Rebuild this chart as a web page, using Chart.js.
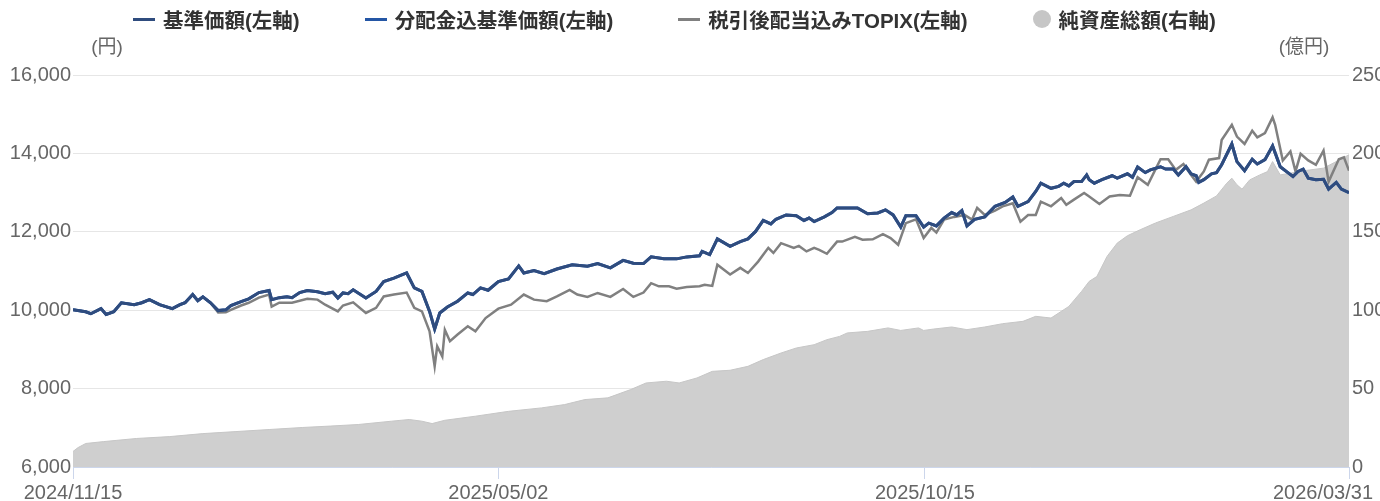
<!DOCTYPE html>
<html lang="ja">
<head>
<meta charset="utf-8">
<title>基準価額・純資産総額の推移</title>
<script src="https://cdn.jsdelivr.net/npm/chart.js@4.4.1/dist/chart.umd.min.js"></script>
<style>
  html, body { margin: 0; padding: 0; background: #fff; }
  #wrap { position: relative; width: 1380px; height: 501px; }
  #legend {
    position: absolute; top: 4px; left: 0;
    display: flex; align-items: center; gap: 65px; padding-left: 133px;
    font: bold 20.5px "Liberation Sans", "Noto Sans CJK JP", sans-serif;
    color: #333; white-space: nowrap;
  }
  .item { display: flex; align-items: center; gap: 8px; }
  .dash { width: 22px; height: 3px; }
  .dot { width: 18px; height: 18px; border-radius: 50%; }
</style>
</head>
<body>
<div id="wrap">
  <canvas id="chart" width="1380" height="501"></canvas>
  <div id="legend"></div>
</div>
<script>
// x = 2024/11/15 からの経過日数
const tickDays = [0, 167, 334.5, 501];
const tickLabels = ['2024/11/15', '2025/05/02', '2025/10/15', '2026/03/31'];

// 基準価額 (円) ※分配金込も同じ
const navPoints = [
  [0,10010],[5,9960],[7,9910],[11,10040],[13,9890],[16,9960],[19,10190],[24,10140],[27,10190],[30,10270],
  [34,10140],[39,10040],[42,10140],[44,10190],[47,10400],[49,10240],[51,10340],[54,10190],[57,9990],[60,10010],
  [62,10120],[66,10220],[69,10290],[73,10450],[77,10500],[78,10270],[81,10320],[84,10340],[86,10320],[89,10450],
  [92,10500],[96,10470],[99,10420],[102,10460],[104,10310],[106,10440],[108,10420],[110,10520],[115,10310],[119,10480],
  [122,10730],[126,10820],[131,10950],[134,10570],[137,10480],[140,9970],[142,9520],[144,9930],[147,10080],[151,10230],
  [155,10440],[157,10400],[160,10570],[163,10510],[167,10730],[171,10800],[175,11130],[177,10950],[181,11010],[185,10930],
  [190,11050],[196,11160],[202,11120],[206,11190],[211,11080],[216,11270],[220,11200],[224,11190],[227,11360],[232,11310],
  [237,11310],[241,11360],[246,11390],[247,11500],[250,11420],[253,11820],[258,11630],[262,11750],[265,11820],[268,12010],
  [271,12290],[274,12200],[276,12320],[280,12430],[284,12410],[287,12290],[289,12350],[291,12260],[295,12380],[298,12490],
  [300,12610],[302,12610],[308,12610],[312,12460],[316,12480],[319,12560],[322,12430],[325,12120],[327,12410],[331,12410],
  [334,12120],[336,12220],[339,12150],[342,12350],[345,12490],[347,12430],[349,12540],[351,12150],[354,12320],[358,12380],
  [362,12650],[366,12750],[369,12890],[371,12650],[375,12770],[378,13030],[380,13240],[384,13110],[387,13160],[389,13240],
  [391,13170],[393,13280],[396,13280],[398,13450],[399,13330],[401,13240],[404,13330],[408,13430],[410,13370],[414,13480],
  [416,13390],[418,13650],[421,13510],[423,13580],[427,13660],[429,13600],[432,13600],[434,13450],[437,13660],[439,13480],
  [441,13430],[442,13260],[444,13330],[447,13480],[449,13510],[451,13710],[455,14240],[457,13790],[460,13560],[463,13850],
  [465,13730],[468,13840],[471,14190],[474,13660],[477,13510],[479,13410],[481,13540],[483,13600],[485,13370],[488,13330],
  [491,13340],[493,13090],[496,13260],[498,13090],[501,13000]
];

// 税引後配当込みTOPIX (指数化)
const topixPoints = [
  [0,10010],[5,9960],[7,9910],[11,10040],[13,9890],[16,9960],[19,10190],[24,10140],[27,10190],[30,10270],
  [34,10140],[39,10040],[42,10140],[44,10190],[47,10400],[49,10240],[51,10340],[54,10190],[57,9940],[60,9950],
  [62,10010],[66,10120],[69,10190],[73,10320],[77,10400],[78,10090],[81,10190],[86,10190],[92,10290],[96,10270],
  [99,10140],[104,9970],[106,10120],[110,10200],[115,9930],[119,10060],[122,10350],[126,10400],[131,10450],[134,10060],
  [137,9970],[140,9460],[142,8570],[143,9080],[145,8820],[146,9500],[148,9210],[151,9380],[155,9590],[158,9460],
  [162,9800],[167,10040],[172,10140],[177,10400],[181,10270],[186,10230],[190,10350],[195,10520],[198,10400],[202,10340],
  [206,10440],[211,10340],[216,10540],[220,10340],[224,10450],[227,10690],[230,10610],[234,10610],[237,10550],[241,10590],
  [246,10610],[248,10650],[251,10620],[253,11160],[258,10910],[262,11080],[265,10950],[269,11240],[273,11590],[275,11460],
  [278,11710],[283,11590],[285,11640],[288,11500],[291,11590],[293,11540],[296,11440],[300,11750],[302,11750],[307,11870],
  [310,11800],[314,11810],[318,11940],[321,11840],[324,11670],[327,12220],[331,12320],[334,11840],[337,12100],[339,11980],
  [342,12310],[346,12380],[350,12430],[353,12310],[355,12610],[358,12430],[362,12540],[365,12650],[369,12730],[372,12260],
  [375,12430],[378,12430],[380,12770],[384,12650],[388,12860],[390,12690],[393,12820],[397,12990],[399,12900],[403,12710],
  [407,12900],[411,12940],[415,12920],[418,13390],[422,13200],[427,13850],[430,13850],[433,13580],[436,13730],[439,13450],
  [441,13280],[444,13540],[446,13840],[450,13880],[451,14340],[455,14730],[457,14430],[460,14240],[463,14580],[465,14410],
  [468,14520],[471,14920],[472,14730],[475,13820],[478,14050],[480,13540],[482,13990],[485,13820],[488,13710],[491,14070],
  [493,13280],[497,13850],[499,13900],[501,13560]
];

// 純資産総額 (億円)
const assetPoints = [
  [0,9.9],[2,12.4],[5,15.0],[12,16.2],[25,18.2],[38,19.4],[51,21.3],[64,22.6],[77,23.9],[90,25.2],
  [101,26.1],[112,27.1],[125,29.2],[132,30.3],[137,29.2],[141,27.7],[146,29.8],[158,32.4],[171,35.5],[184,37.7],
  [193,39.8],[201,43.0],[210,44.1],[219,49.4],[225,53.6],[233,54.7],[238,53.6],[245,56.8],[251,61.0],[258,61.7],
  [265,64.2],[271,68.5],[278,72.7],[284,75.9],[291,78.0],[296,81.2],[301,83.3],[304,85.5],[312,86.5],[320,88.7],
  [325,87.1],[332,88.7],[334,87.1],[338,88.0],[345,89.3],[351,87.6],[358,89.3],[365,91.4],[373,92.9],[378,96.1],
  [384,95.0],[391,102.4],[396,112.0],[399,118.4],[402,121.5],[406,134.3],[410,142.8],[414,147.5],[419,151.3],[425,155.6],
  [432,159.8],[439,164.0],[444,168.3],[449,172.9],[453,181.0],[455,184.2],[457,180.0],[459,177.2],[462,183.1],[466,186.3],
  [469,188.4],[471,194.8],[474,186.3],[478,187.4],[484,189.1],[491,190.6],[496,194.8],[501,199.1]
];

const toXY = pts => pts.map(p => ({ x: p[0], y: p[1] }));
const tickFont = { family: '"Liberation Sans", Arial, sans-serif', size: 20 };

// 単位表示と日付ラベル
const axisText = {
  id: 'axisText',
  afterDraw(chart) {
    const { ctx, chartArea, scales } = chart;
    ctx.save();
    ctx.fillStyle = '#666';
    ctx.font = '19px "Liberation Sans", "Noto Sans CJK JP", sans-serif';
    ctx.textBaseline = 'middle';
    ctx.textAlign = 'center';
    ctx.fillText('(円)', chartArea.left + 34, chartArea.top - 27);
    ctx.fillText('(億円)', chartArea.right - 45, chartArea.top - 27);

    ctx.font = '20px "Liberation Sans", Arial, sans-serif';
    ctx.textBaseline = 'alphabetic';
    ctx.textAlign = 'left';
    tickDays.forEach((d, i) => {
      const w = ctx.measureText(tickLabels[i]).width;
      let x = scales.x.getPixelForValue(d) - w / 2;
      x = Math.min(Math.max(x, 0), chart.width - 7 - w);
      ctx.fillText(tickLabels[i], x, chart.height - 2);
    });
    ctx.restore();
  }
};

const chart = new Chart(document.getElementById('chart'), {
  type: 'line',
  data: {
    datasets: [
      { label: '基準価額(左軸)', data: toXY(navPoints), borderColor: '#2f4c7e', borderWidth: 3, yAxisID: 'y' },
      { label: '分配金込基準価額(左軸)', data: toXY(navPoints), borderColor: '#2456a5', borderWidth: 3, yAxisID: 'y' },
      { label: '税引後配当込みTOPIX(左軸)', data: toXY(topixPoints), borderColor: '#808080', borderWidth: 2.5, yAxisID: 'y' },
      { label: '純資産総額(右軸)', data: toXY(assetPoints), borderColor: '#c6c6c6', backgroundColor: '#cfcfcf',
        borderWidth: 1, fill: 'origin', yAxisID: 'y1' }
    ]
  },
  options: {
    responsive: false,
    animation: false,
    elements: { point: { radius: 0 }, line: { tension: 0 } },
    layout: { padding: { top: 75, left: 0, right: 0, bottom: 0 } },
    plugins: { legend: { display: false }, tooltip: { enabled: false } },
    scales: {
      x: {
        type: 'linear', min: 0, max: 501,
        afterBuildTicks: s => { s.ticks = tickDays.map(v => ({ value: v })); },
        afterFit: s => { s.height = 34; },
        ticks: { callback: () => '', padding: 0 },
        grid: { drawOnChartArea: false, color: '#ccd6eb', tickLength: 12 },
        border: { color: '#ccd6eb' }
      },
      y: {
        position: 'left', min: 6000, max: 16000,
        afterFit: s => { s.width = 73; },
        ticks: { stepSize: 2000, padding: 2, color: '#666', font: tickFont,
          callback: v => v.toLocaleString('en-US') },
        grid: { color: '#e6e6e6', drawTicks: false },
        border: { display: false }
      },
      y1: {
        position: 'right', min: 0, max: 250,
        afterFit: s => { s.width = 31; },
        ticks: { stepSize: 50, padding: 3, color: '#666', font: tickFont },
        grid: { display: false, drawTicks: false },
        border: { display: false }
      }
    }
  },
  plugins: [axisText]
});

// 凡例
const legendEl = document.getElementById('legend');
chart.data.datasets.forEach(ds => {
  const item = document.createElement('div');
  item.className = 'item';
  const mark = document.createElement('span');
  if (ds.fill) {
    mark.className = 'dot';
    mark.style.background = '#c6c6c6';
  } else {
    mark.className = 'dash';
    mark.style.background = ds.borderColor;
  }
  const text = document.createElement('span');
  text.textContent = ds.label;
  item.appendChild(mark);
  item.appendChild(text);
  legendEl.appendChild(item);
});
</script>
</body>
</html>
